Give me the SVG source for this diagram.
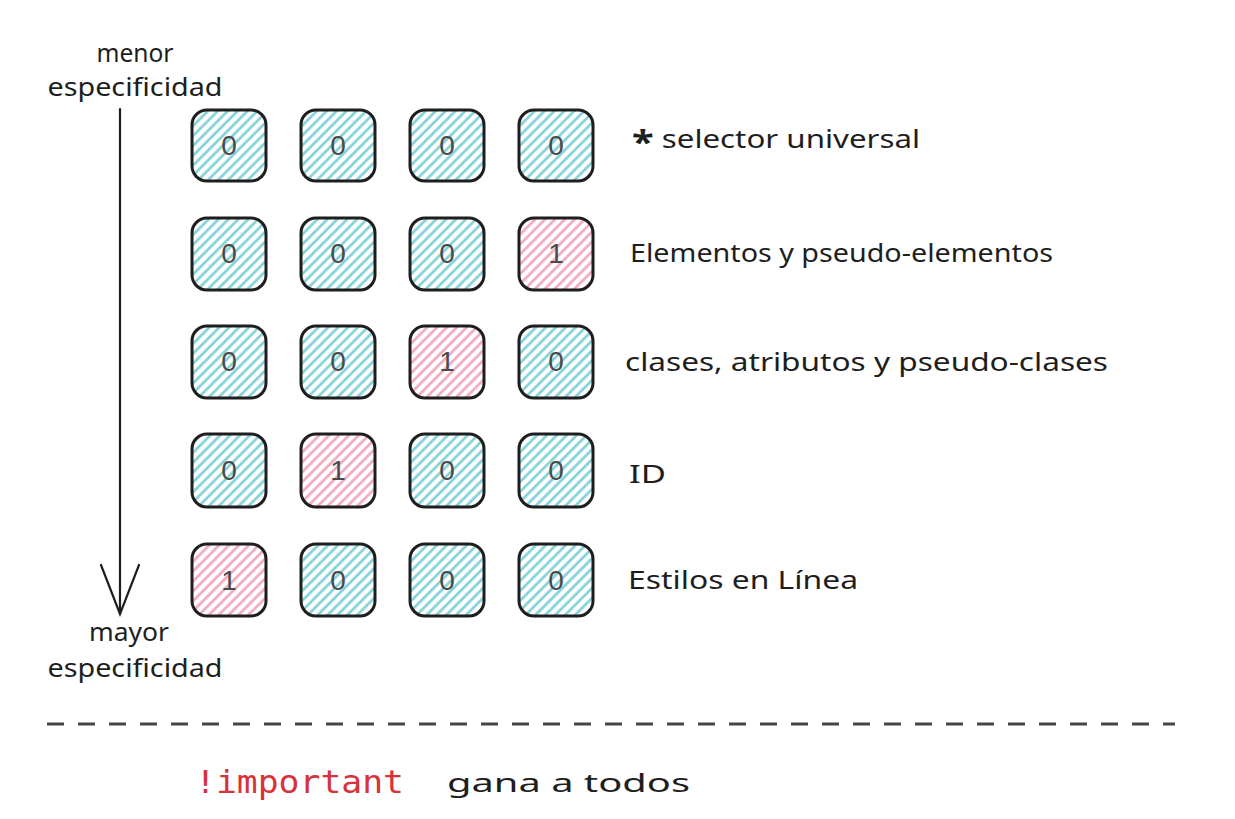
<svg xmlns="http://www.w3.org/2000/svg" width="1235" height="819" viewBox="0 0 1235 819">
<defs>
<pattern id="hc" patternUnits="userSpaceOnUse" width="7" height="7" patternTransform="rotate(45)">
<rect width="7" height="7" fill="#ffffff"/>
<line x1="1.5" y1="0" x2="1.5" y2="7" stroke="#7fd0d7" stroke-width="2.6"/>
</pattern>
<pattern id="hp" patternUnits="userSpaceOnUse" width="7" height="7" patternTransform="rotate(45)">
<rect width="7" height="7" fill="#ffffff"/>
<line x1="1.5" y1="0" x2="1.5" y2="7" stroke="#f2a6bb" stroke-width="2.6"/>
</pattern>
</defs>
<style>
.box{stroke:#1e1e1e;stroke-width:3}
.c{fill:url(#hc)}
.p{fill:url(#hp)}
.d{font-family:"Liberation Sans",Arial,sans-serif;font-size:28px;fill:#4a4a4a;text-anchor:middle}
.t{font-family:"Noto Sans","Liberation Sans",sans-serif;font-size:25px;fill:#1e1e1e}
.ax{stroke:#1e1e1e;stroke-width:2.2;fill:none;stroke-linecap:round}
</style>
<rect width="1235" height="819" fill="#ffffff"/>

<g id="connectors">
<line class="ax" x1="120" y1="109" x2="120" y2="614"/>
<polyline class="ax" points="101,565 120,614 139,565"/>
<line x1="47" y1="724" x2="1175" y2="724" stroke="#444" stroke-width="3.2" stroke-dasharray="17,14"/>
</g>

<g id="labels-axis">
<text class="t" x="135" y="62" text-anchor="middle" textLength="77" lengthAdjust="spacingAndGlyphs">menor</text>
<text class="t" x="135" y="96" text-anchor="middle" textLength="175" lengthAdjust="spacingAndGlyphs">especificidad</text>
<text class="t" x="129" y="641" text-anchor="middle" textLength="80" lengthAdjust="spacingAndGlyphs">mayor</text>
<text class="t" x="135" y="677" text-anchor="middle" textLength="175" lengthAdjust="spacingAndGlyphs">especificidad</text>
</g>

<g id="row1">
<rect class="box c" x="192" y="110" width="74" height="71" rx="15"/><text class="d" x="229" y="155">0</text>
<rect class="box c" x="301" y="110" width="74" height="71" rx="15"/><text class="d" x="338" y="155">0</text>
<rect class="box c" x="410" y="110" width="74" height="71" rx="15"/><text class="d" x="447" y="155">0</text>
<rect class="box c" x="519" y="110" width="74" height="71" rx="15"/><text class="d" x="556" y="155">0</text>
<text class="t" x="632" y="148" textLength="288" lengthAdjust="spacingAndGlyphs"><tspan font-weight="bold" font-size="32" dy="6">*</tspan><tspan dy="-6"> selector universal</tspan></text>
</g>

<g id="row2">
<rect class="box c" x="192" y="218" width="74" height="72" rx="15"/><text class="d" x="229" y="263">0</text>
<rect class="box c" x="301" y="218" width="74" height="72" rx="15"/><text class="d" x="338" y="263">0</text>
<rect class="box c" x="410" y="218" width="74" height="72" rx="15"/><text class="d" x="447" y="263">0</text>
<rect class="box p" x="519" y="218" width="74" height="72" rx="15"/><text class="d" x="556" y="263">1</text>
<text class="t" x="630" y="262" textLength="423" lengthAdjust="spacingAndGlyphs">Elementos y pseudo-elementos</text>
</g>

<g id="row3">
<rect class="box c" x="192" y="326" width="74" height="72" rx="15"/><text class="d" x="229" y="371">0</text>
<rect class="box c" x="301" y="326" width="74" height="72" rx="15"/><text class="d" x="338" y="371">0</text>
<rect class="box p" x="410" y="326" width="74" height="72" rx="15"/><text class="d" x="447" y="371">1</text>
<rect class="box c" x="519" y="326" width="74" height="72" rx="15"/><text class="d" x="556" y="371">0</text>
<text class="t" x="625" y="371" textLength="483" lengthAdjust="spacingAndGlyphs">clases, atributos y pseudo-clases</text>
</g>

<g id="row4">
<rect class="box c" x="192" y="434" width="74" height="73" rx="15"/><text class="d" x="229" y="480">0</text>
<rect class="box p" x="301" y="434" width="74" height="73" rx="15"/><text class="d" x="338" y="480">1</text>
<rect class="box c" x="410" y="434" width="74" height="73" rx="15"/><text class="d" x="447" y="480">0</text>
<rect class="box c" x="519" y="434" width="74" height="73" rx="15"/><text class="d" x="556" y="480">0</text>
<text class="t" x="629" y="483" textLength="37" lengthAdjust="spacingAndGlyphs">ID</text>
</g>

<g id="row5">
<rect class="box p" x="192" y="544" width="74" height="72" rx="15"/><text class="d" x="229" y="590">1</text>
<rect class="box c" x="301" y="544" width="74" height="72" rx="15"/><text class="d" x="338" y="590">0</text>
<rect class="box c" x="410" y="544" width="74" height="72" rx="15"/><text class="d" x="447" y="590">0</text>
<rect class="box c" x="519" y="544" width="74" height="72" rx="15"/><text class="d" x="556" y="590">0</text>
<text class="t" x="628" y="589" textLength="230" lengthAdjust="spacingAndGlyphs">Estilos en Línea</text>
</g>

<g id="important">
<text x="195" y="793" font-family="'DejaVu Sans Mono','Liberation Mono',monospace" font-size="32" fill="#d6333b" textLength="209" lengthAdjust="spacingAndGlyphs">!important</text>
<text class="t" x="447" y="792" font-size="30" textLength="243" lengthAdjust="spacingAndGlyphs">gana a todos</text>
</g>
</svg>
